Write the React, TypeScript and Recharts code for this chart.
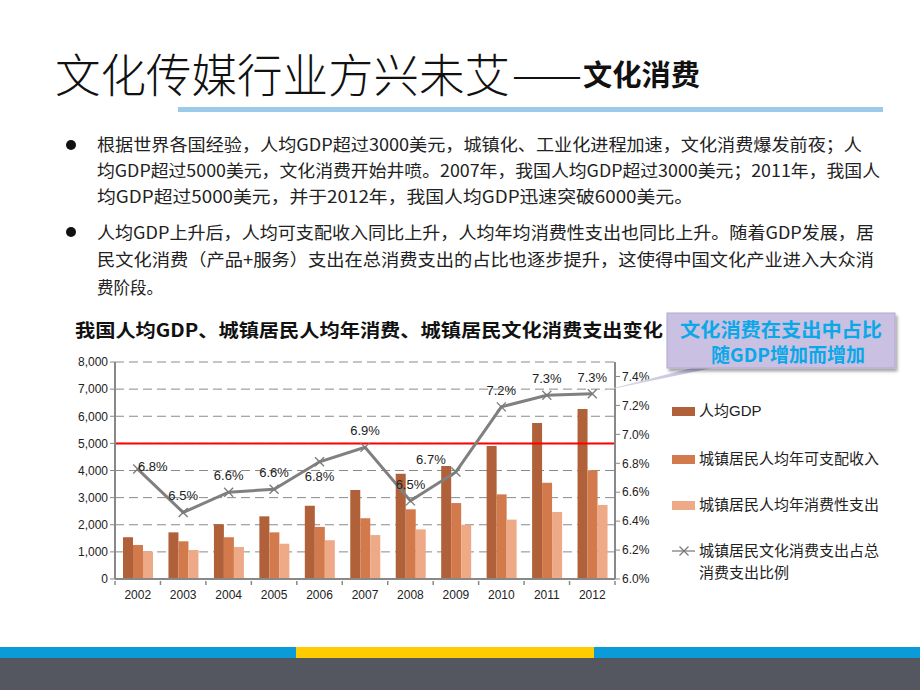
import React from 'react';
import { ComposedChart, Bar, Line, XAxis, YAxis, CartesianGrid, ReferenceLine, LabelList } from 'recharts';

const YEARS = ['2002', '2003', '2004', '2005', '2006', '2007', '2008', '2009', '2010', '2011', '2012'];
const GDP_PER_CAPITA = [1540, 1720, 2020, 2310, 2700, 3280, 3880, 4170, 4900, 5750, 6270];
const URBAN_INCOME = [1255, 1390, 1540, 1720, 1920, 2240, 2570, 2800, 3120, 3550, 4010];
const URBAN_SPENDING = [1010, 1070, 1180, 1300, 1430, 1620, 1830, 2000, 2190, 2470, 2730];
const CULTURE_SHARE = [6.76, 6.46, 6.6, 6.62, 6.81, 6.91, 6.54, 6.74, 7.19, 7.27, 7.28];

const LEFT_TICKS = [0, 1000, 2000, 3000, 4000, 5000, 6000, 7000, 8000];
const RIGHT_TICKS = [6.0, 6.2, 6.4, 6.6, 6.8, 7.0, 7.2, 7.4];

const SERIES_NAMES = ['人均GDP', '城镇居民人均年可支配收入', '城镇居民人均年消费性支出'];
const LINE_NAME = ['城镇居民文化消费支出占总', '消费支出比例'];

const BODY_LINES = [
  '根据世界各国经验，人均GDP超过3000美元，城镇化、工业化进程加速，文化消费爆发前夜；人',
  '均GDP超过5000美元，文化消费开始井喷。2007年，我国人均GDP超过3000美元；2011年，我国人',
  '均GDP超过5000美元，并于2012年，我国人均GDP迅速突破6000美元。',
  '人均GDP上升后，人均可支配收入同比上升，人均年均消费性支出也同比上升。随着GDP发展，居',
  '民文化消费（产品+服务）支出在总消费支出的占比也逐步提升，这使得中国文化产业进入大众消',
  '费阶段。',
];

const rows = YEARS.map((year, i) => ({
  year,
  gdp: GDP_PER_CAPITA[i],
  income: URBAN_INCOME[i],
  spending: URBAN_SPENDING[i],
  share: CULTURE_SHARE[i],
}));

const BAR_COLORS = ['#B0613A', '#D27A4B', '#EEA986'];
const LABEL_SIDE = ['right', 'top', 'top', 'top', 'bottom', 'top', 'top', 'left', 'top', 'top', 'top'];
const CJK = '"Liberation Sans", "Noto Sans CJK SC", sans-serif';
const CAT_W = 500 / YEARS.length;

const XTick = (props: any) => {
  const { x, y, payload, index } = props;
  return (
    <g>
      <line x1={x - CAT_W / 2} y1={y} x2={x - CAT_W / 2} y2={y + 4} stroke="#888" strokeWidth={1.5} />
      {index === YEARS.length - 1 && (
        <line x1={x + CAT_W / 2} y1={y} x2={x + CAT_W / 2} y2={y + 4} stroke="#888" strokeWidth={1.5} />
      )}
      <text x={x} y={y + 18} textAnchor="middle" fontSize={12} fill="#222" fontFamily={CJK}>
        {payload.value}
      </text>
    </g>
  );
};

const CrossDot = (props: any) => {
  const { cx, cy } = props;
  if (cx == null || cy == null) return null;
  const s = 4.5;
  return (
    <g stroke="#7a7a7a" strokeWidth={1.3}>
      <line x1={cx - s} y1={cy - s} x2={cx + s} y2={cy + s} />
      <line x1={cx - s} y1={cy + s} x2={cx + s} y2={cy - s} />
    </g>
  );
};

const ShareLabel = (props: any) => {
  const { x, y, value, index } = props;
  const side = LABEL_SIDE[index];
  let tx = x;
  let ty = y - 17;
  if (side === 'right') { tx = x + 15; ty = y - 3; }
  if (side === 'bottom') { ty = y + 14; }
  if (side === 'left') { tx = x - 25; ty = y - 13; }
  return (
    <text x={tx} y={ty} dy={5} textAnchor="middle" fontSize={13} fill="#222" fontFamily={CJK}>
      {Number(value).toFixed(1)}%
    </text>
  );
};

export default function App() {
  return (
    <div style={{ position: 'absolute', left: 0, top: 0, width: 920, height: 690, background: '#fff', overflow: 'hidden' }}>
      <div style={{ position: 'absolute', left: 0, top: 340 }}>
        <ComposedChart
          width={920}
          height={280}
          data={rows}
          margin={{ top: 22, right: 245, left: 0, bottom: 0 }}
          barGap={0}
          barCategoryGap="17%"
        >
          <CartesianGrid yAxisId="gdp" vertical={false} stroke="#8a8a8a" strokeDasharray="9 5" />
          <XAxis
            dataKey="year"
            height={41}
            tick={<XTick />}
            tickLine={false}
            tickSize={0}
            axisLine={{ stroke: '#888', strokeWidth: 2 }}
          />
          <YAxis
            yAxisId="gdp"
            width={115}
            domain={[0, 8000]}
            ticks={LEFT_TICKS}
            interval={0}
            tickFormatter={(v: number) => v.toLocaleString('en-US')}
            tick={{ fontSize: 12, fill: '#222', fontFamily: CJK }}
            tickSize={5}
            tickLine={{ stroke: '#888' }}
            axisLine={{ stroke: '#888', strokeWidth: 2 }}
          />
          <YAxis
            yAxisId="pct"
            orientation="right"
            width={60}
            domain={[6, 7.5]}
            ticks={RIGHT_TICKS}
            interval={0}
            allowDataOverflow
            tickFormatter={(v: number) => v.toFixed(1) + '%'}
            tick={{ fontSize: 12, fill: '#222', fontFamily: CJK }}
            tickSize={5}
            tickLine={{ stroke: '#888' }}
            axisLine={{ stroke: '#888', strokeWidth: 2 }}
          />
          <Bar yAxisId="gdp" dataKey="gdp" fill={BAR_COLORS[0]} barSize={10} isAnimationActive={false} />
          <Bar yAxisId="gdp" dataKey="income" fill={BAR_COLORS[1]} barSize={10} isAnimationActive={false} />
          <Bar yAxisId="gdp" dataKey="spending" fill={BAR_COLORS[2]} barSize={10} isAnimationActive={false} />
          <ReferenceLine yAxisId="gdp" y={5000} stroke="#ff0000" strokeWidth={2} />
          <Line
            yAxisId="pct"
            type="linear"
            dataKey="share"
            stroke="#808080"
            strokeWidth={3}
            dot={<CrossDot />}
            activeDot={false}
            isAnimationActive={false}
          >
            <LabelList dataKey="share" content={<ShareLabel />} />
          </Line>
        </ComposedChart>
      </div>

      <svg width={920} height={690} style={{ position: 'absolute', left: 0, top: 0, pointerEvents: 'none' }}>
        {/* slide title */}
        <text x={55} y={92} fontSize={46} fontWeight={300} fill="#111" fontFamily='"Noto Sans CJK SC", sans-serif' textLength={455} lengthAdjust="spacingAndGlyphs">
          文化传媒行业方兴未艾
        </text>
        <text x={512} y={88} fontSize={34} fill="#111" fontFamily='"Noto Sans CJK SC", sans-serif' textLength={70} lengthAdjust="spacingAndGlyphs">
          ——
        </text>
        <text x={583} y={86} fontSize={29} fontWeight="bold" fill="#111" fontFamily='"Noto Sans CJK SC", sans-serif' textLength={117} lengthAdjust="spacingAndGlyphs">
          文化消费
        </text>
        <rect x={178} y={107} width={705} height={5} fill="#9CCBEA" />

        {/* bullets */}
        <circle cx={71} cy={145} r={5} fill="#111" />
        <circle cx={71} cy={232} r={5} fill="#111" />
        {BODY_LINES.map((line, i) => {
          const ys = [145, 171, 197, 233, 260, 288];
          const ends = [862, 880, 693, 874, 874, 163];
          return (
            <text key={i} x={97} y={ys[i] + 6} fontSize={17} fill="#222" fontFamily='"Noto Sans CJK SC", sans-serif' textLength={ends[i] - 97} lengthAdjust="spacingAndGlyphs">
              {line}
            </text>
          );
        })}

        {/* chart title */}
        <text x={75} y={337} fontSize={18} fontWeight="bold" fill="#111" fontFamily='"Noto Sans CJK SC", sans-serif' textLength={588} lengthAdjust="spacingAndGlyphs">
          我国人均GDP、城镇居民人均年消费、城镇居民文化消费支出变化
        </text>

        {/* legend */}
        {SERIES_NAMES.map((name, i) => {
          const cy = [411, 459, 505][i];
          return (
            <g key={name}>
              <rect x={672} y={cy - 4} width={23} height={9} fill={BAR_COLORS[i]} />
              <text x={699} y={cy + 5} fontSize={15} fill="#222" fontFamily={CJK}>{name}</text>
            </g>
          );
        })}
        <line x1={672} y1={551} x2={695} y2={551} stroke="#909090" strokeWidth={1.5} />
        <CrossDot cx={684} cy={551} />
        <text x={699} y={556} fontSize={15} fill="#222" fontFamily={CJK}>{LINE_NAME[0]}</text>
        <text x={699} y={578} fontSize={15} fill="#222" fontFamily={CJK}>{LINE_NAME[1]}</text>

        {/* callout */}
        <defs>
          <linearGradient id="tail" x1="1" y1="0" x2="0" y2="0.4">
            <stop offset="0%" stopColor="#C6BCE0" />
            <stop offset="100%" stopColor="#D6D6E4" />
          </linearGradient>
          <filter id="shadow" x="-10%" y="-10%" width="130%" height="140%">
            <feDropShadow dx={2} dy={3} stdDeviation={1.5} floodColor="#000" floodOpacity={0.35} />
          </filter>
        </defs>
        <polygon points="700,366 722,366 598,392" fill="url(#tail)" />
        <rect x={667} y={313} width={228} height={55} fill="#C9C0E2" stroke="#B2A8D2" strokeWidth={1} filter="url(#shadow)" />
        <text x={781} y={337} textAnchor="middle" fontSize={19} fontWeight="bold" fill="#0AA8E8" fontFamily='"Noto Sans CJK SC", sans-serif' textLength={202} lengthAdjust="spacingAndGlyphs">
          文化消费在支出中占比
        </text>
        <text x={788} y={362} textAnchor="middle" fontSize={19} fontWeight="bold" fill="#0AA8E8" fontFamily='"Noto Sans CJK SC", sans-serif'>
          随GDP增加而增加
        </text>

        {/* footer bars */}
        <rect x={0} y={647} width={920} height={11} fill="#0A9BD8" />
        <rect x={296} y={647} width={298} height={11} fill="#FFCC00" />
        <rect x={0} y={658} width={920} height={32} fill="#545660" />
      </svg>
    </div>
  );
}
